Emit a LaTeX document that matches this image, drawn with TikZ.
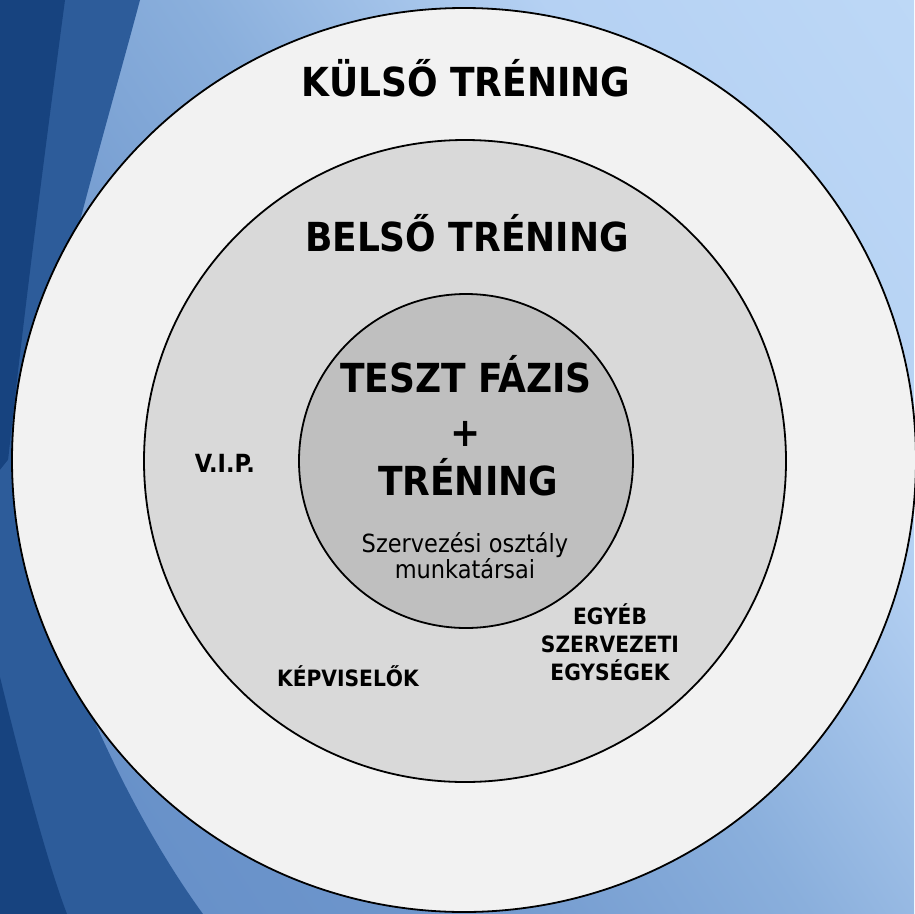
\documentclass[tikz,border=0pt]{standalone}
\usepackage{fontspec}
\newfontfamily\dvc{DejaVu Sans Condensed}
\definecolor{bgA}{HTML}{5A86C2}
\definecolor{bgB}{HTML}{6E96CC}
\definecolor{bgC}{HTML}{8AAFDC}
\definecolor{bgD}{HTML}{B5D1F3}
\definecolor{bgE}{HTML}{C4DEF9}
\definecolor{swdark}{HTML}{17437F}
\definecolor{swmid}{HTML}{2D5C9A}
\definecolor{ringA}{HTML}{F2F2F2}
\definecolor{ringB}{HTML}{D9D9D9}
\definecolor{ringC}{HTML}{BFBFBF}
\pgfdeclarehorizontalshading{bgshade}{100bp}{color(0bp)=(bgA); color(35bp)=(bgB); color(52bp)=(bgC); color(68bp)=(bgD); color(100bp)=(bgE)}
\tikzset{
  ring/.style={circle, draw=black, line width=1.8pt, inner sep=0pt},
  txt/.style={anchor=base, inner sep=0pt, text=black, align=center},
  bigf/.style={font=\dvc\bfseries\fontsize{40}{44}\selectfont},
  smallb/.style={font=\dvc\bfseries\fontsize{22.5}{28}\selectfont},
  smallr/.style={font=\dvc\fontsize{25}{25.5}\selectfont},
}
\begin{document}
\begin{tikzpicture}[x=1pt,y=-1pt]
\useasboundingbox (0,0) rectangle (914,914);
\shade[shading=bgshade, shading angle=34] (0,0) rectangle (914,914);
% swooshes
\fill[swmid] (0,0) -- (140,0) .. controls (100,150) and (25,400) .. (0,600) -- cycle;
\fill[swdark] (0,0) -- (65,0) .. controls (45,150) and (15,380) .. (0,540) -- cycle;
\fill[swmid] (12,455) .. controls (40,620) and (120,800) .. (203,914) -- (0,914) -- (0,470) -- cycle;
\fill[swdark] (0,677) .. controls (25,780) and (50,870) .. (67,914) -- (0,914) -- cycle;
% rings
\node[ring, fill=ringA, minimum size=904pt] (outer) at (464,460) {};
\node[ring, fill=ringB, minimum size=642pt] (middle) at (465,461) {};
\node[ring, fill=ringC, minimum size=334pt] (inner) at (466,461) {};
% texts
\node[txt, bigf] (kulso) at (466,96) {KÜLSŐ TRÉNING};
\node[txt, bigf] (belso) at (467,251) {BELSŐ TRÉNING};
\node[txt, bigf] (teszt) at (466,392) {TESZT FÁZIS};
\node[txt, bigf] (plus) at (466,446) {+};
\node[txt, bigf] (trening) at (468,495) {TRÉNING};
\node[txt, smallr] (szerv) at (465,578) {Szervezési osztály\\munkatársai};
\node[txt, smallb, font=\dvc\bfseries\fontsize{25}{28}\selectfont] (vip) at (225,472) {V.I.P.};
\node[txt, smallb] (kepv) at (348,686) {KÉPVISELŐK};
\node[txt, smallb] (egyeb) at (610,680) {EGYÉB\\SZERVEZETI\\EGYSÉGEK};
\end{tikzpicture}
\end{document}
